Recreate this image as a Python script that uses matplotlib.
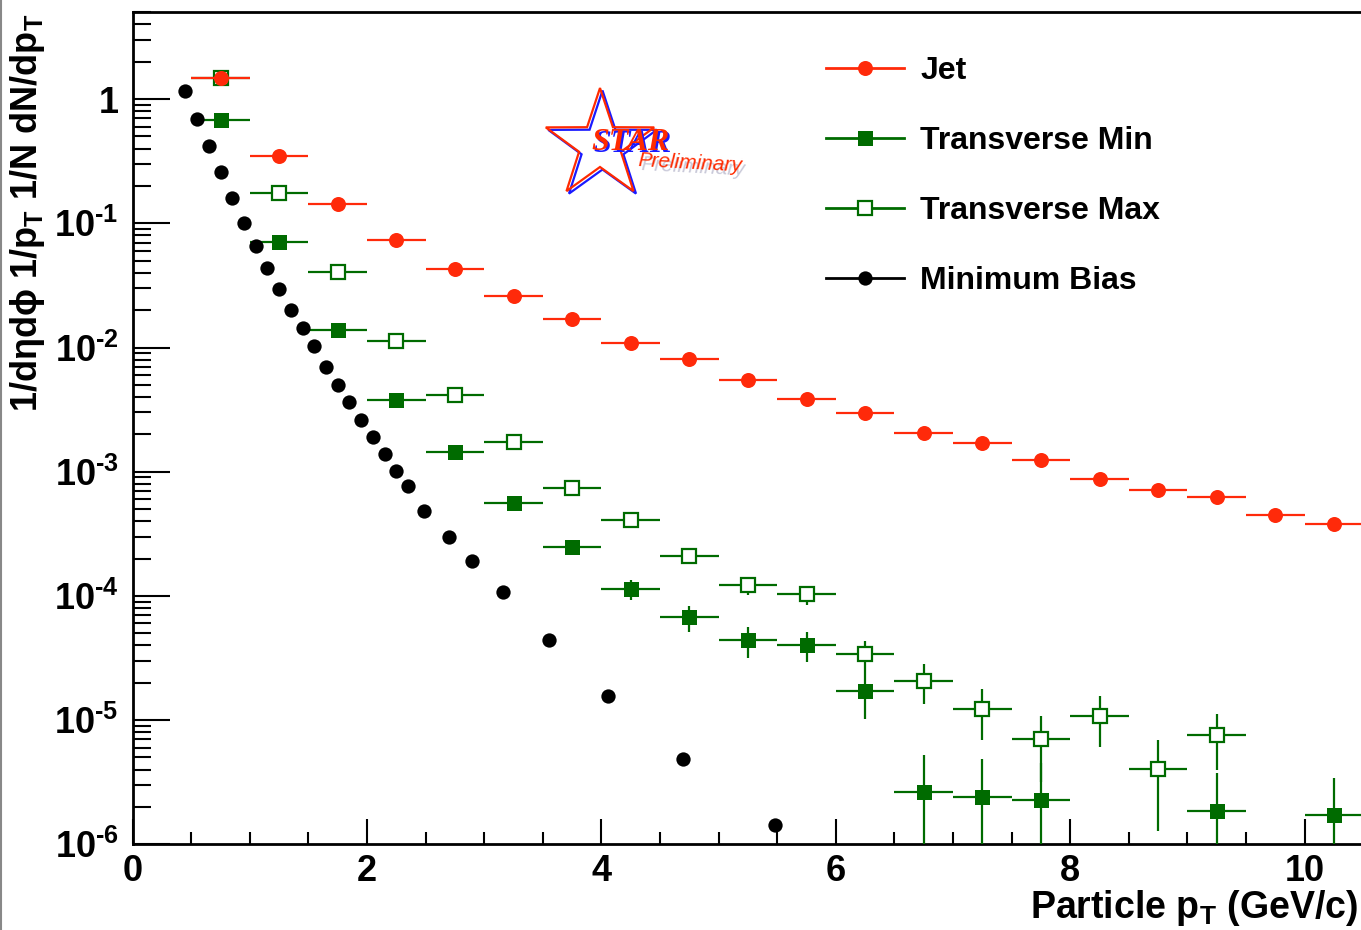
import numpy as np
import matplotlib
matplotlib.use("Agg")
import matplotlib.pyplot as plt
from matplotlib.lines import Line2D
from matplotlib.patches import Polygon
from matplotlib.ticker import FixedLocator, LogLocator, MultipleLocator, FuncFormatter, NullFormatter

plt.rcParams['font.family'] = ['Liberation Sans', 'DejaVu Sans']
plt.rcParams['font.weight'] = 'bold'
plt.rcParams['mathtext.fontset'] = 'custom'
plt.rcParams['mathtext.rm'] = 'Liberation Sans:bold'
plt.rcParams['mathtext.it'] = 'Liberation Sans:bold'
plt.rcParams['mathtext.bf'] = 'Liberation Sans:bold'
plt.rcParams['mathtext.sf'] = 'Liberation Sans:bold'

# ---------------- data ----------------
bin_half_width = 0.25

jet_pt = [0.75, 1.25, 1.75, 2.25, 2.75, 3.25, 3.75, 4.25, 4.75, 5.25,
          5.75, 6.25, 6.75, 7.25, 7.75, 8.25, 8.75, 9.25, 9.75, 10.25]
jet_y = [1.47, 0.346, 0.142, 0.0730, 0.0427, 0.0259, 0.0169, 0.0108, 0.00805, 0.00546,
         0.00384, 0.00296, 0.00204, 0.00170, 0.00124, 0.000871, 0.000711, 0.000624, 0.000447, 0.000378]
jet_err = [0.01, 0.003, 0.0015, 0.0009, 0.0006, 0.0004, 0.0003, 0.0002, 0.00017, 0.00012,
           9e-5, 7.5e-5, 5.5e-5, 5e-5, 4e-5, 3e-5, 2.6e-5, 2.4e-5, 2e-5, 1.8e-5]

tmax_pt = [0.75, 1.25, 1.75, 2.25, 2.75, 3.25, 3.75, 4.25, 4.75, 5.25,
           5.75, 6.25, 6.75, 7.25, 7.75, 8.25, 8.75, 9.25]
tmax_y = [1.47, 0.177, 0.0403, 0.0112, 0.00413, 0.00173, 0.000738, 0.000408, 0.000209, 0.000122,
          0.000103, 3.40e-5, 2.08e-5, 1.23e-5, 7.02e-6, 1.08e-5, 4.07e-6, 7.60e-6]
tmax_err = [0.006, 0.0016, 0.00064, 0.0003, 0.00016, 9.7e-5, 5.9e-5, 4.1e-5, 2.8e-5, 2.0e-5,
            1.8e-5, 0.95e-5, 0.74e-5, 0.54e-5, 0.385e-5, 0.47e-5, 0.28e-5, 0.367e-5]

tmin_pt = [0.75, 1.25, 1.75, 2.25, 2.75, 3.25, 3.75, 4.25, 4.75, 5.25,
           5.75, 6.25, 6.75, 7.25, 7.75, 9.25, 10.25]
tmin_y = [0.674, 0.0703, 0.0138, 0.00377, 0.00144, 0.000558, 0.000247, 0.000114, 6.76e-5, 4.40e-5,
          4.01e-5, 1.73e-5, 2.63e-6, 2.42e-6, 2.27e-6, 1.87e-6, 1.72e-6]
tmin_err = [0.004, 0.001, 0.00037, 0.00017, 9.6e-5, 5.5e-5, 3.4e-5, 2.1e-5, 1.6e-5, 1.23e-5,
            1.1e-5, 0.70e-5, 2.63e-6, 2.42e-6, 2.27e-6, 1.87e-6, 1.72e-6]

mb_pt = [0.45, 0.55, 0.65, 0.75, 0.85, 0.95, 1.05, 1.15, 1.25, 1.35,
         1.45, 1.55, 1.65, 1.75, 1.85, 1.95, 2.05, 2.15, 2.25, 2.35,
         2.49, 2.70, 2.90, 3.16, 3.55, 4.06, 4.70, 5.48]
mb_y = [1.153, 0.695, 0.417, 0.259, 0.159, 0.1013, 0.0662, 0.0437, 0.0298, 0.0200,
        0.0143, 0.0102, 0.00698, 0.00500, 0.00361, 0.00260, 0.00189, 0.00140, 0.00102, 0.000762,
        0.000482, 0.000299, 0.000192, 0.000108, 4.42e-5, 1.57e-5, 4.85e-6, 1.44e-6]

series_labels = ["Jet", "Transverse Min", "Transverse Max", "Minimum Bias"]

RED = '#ff2a0a'
GREEN = '#006b00'
BLACK = '#000000'

W, H = 1361, 930
fig = plt.figure(figsize=(W / 100, H / 100), dpi=100)

x0, x1 = 132.6, 132.6 + 10.5 * 117.2
y_top, y_bot = 12.3, 844.3
ax = fig.add_axes([x0 / W, 1 - y_bot / H, (x1 - x0) / W, (y_bot - y_top) / H])
ax.set_yscale('log', nonpositive='clip')
ax.set_xlim(0, 10.5)
ax.set_ylim(1e-6, 5)


def asym(y, e):
    y = np.asarray(y, float)
    e = np.asarray(e, float)
    lo = np.minimum(e, y * 0.9999)
    return [lo, e]


eb_kw = dict(capsize=0, elinewidth=1.6, linestyle='none')

ax.errorbar(tmax_pt, tmax_y, xerr=bin_half_width, yerr=asym(tmax_y, tmax_err),
            marker='s', ms=10.6, mfc='white', mec=GREEN, mew=1.6, color=GREEN,
            zorder=2, **eb_kw)
ax.errorbar(tmin_pt, tmin_y, xerr=bin_half_width, yerr=asym(tmin_y, tmin_err),
            marker='s', ms=10.8, mfc=GREEN, mec=GREEN, mew=0, color=GREEN,
            zorder=3, **eb_kw)
ax.errorbar(jet_pt, jet_y, xerr=bin_half_width, yerr=asym(jet_y, jet_err),
            marker='o', ms=10.8, mfc=RED, mec=RED, mew=0, color=RED,
            zorder=4, **eb_kw)
ax.plot(mb_pt, mb_y, linestyle='none', marker='o', ms=10.3, mfc=BLACK, mec=BLACK,
        mew=0, zorder=5)

# axes styling
for side in ['left', 'bottom', 'top']:
    ax.spines[side].set_linewidth(2.0)
ax.spines['right'].set_visible(False)

ax.yaxis.set_major_locator(FixedLocator([10.0 ** k for k in range(-6, 1)]))
ax.yaxis.set_minor_locator(LogLocator(base=10, subs=np.arange(2, 10), numticks=20))
ax.yaxis.set_minor_formatter(NullFormatter())


def ylab(v, pos):
    k = int(round(np.log10(v)))
    if k == 0:
        return '1'
    return '$10^{\u2010%d}$' % abs(k)


ax.yaxis.set_major_formatter(FuncFormatter(ylab))
ax.xaxis.set_major_locator(MultipleLocator(2))
ax.xaxis.set_minor_locator(MultipleLocator(0.5))
ax.xaxis.set_major_formatter(FuncFormatter(lambda v, p: '%d' % v))

ax.tick_params(axis='y', which='major', direction='in', length=26.5, width=1.5,
               labelsize=26, pad=10, left=True, right=False)
ax.tick_params(axis='y', which='minor', direction='in', length=13, width=1.5,
               left=True, right=False)
ax.tick_params(axis='x', which='major', direction='in', length=18, width=1.5,
               labelsize=26, pad=7, bottom=True, top=False)
ax.tick_params(axis='x', which='minor', direction='in', length=9, width=1.5,
               bottom=True, top=False)
for lab in ax.get_xticklabels() + ax.get_yticklabels():
    lab.set_fontweight('bold')

# axis titles
fig.text(1358 / W, 1 - 917.5 / H, r'Particle p$_{\mathrm{T}}$ (GeV/c)', ha='right',
         va='baseline', fontsize=27, fontweight='bold')
fig.text(28 / W, 1 - 13 / H,
         '1/d\u03b7d\u03d5 1/p$_{\\mathrm{T}}$ 1/N dN/dp$_{\\mathrm{T}}$',
         rotation=90, ha='center', va='top', fontsize=26, fontweight='bold')

# legend
handles = [
    Line2D([], [], color=RED, lw=2, marker='o', ms=10.8, mfc=RED, mec=RED, mew=0),
    Line2D([], [], color=GREEN, lw=2, marker='s', ms=10.8, mfc=GREEN, mec=GREEN, mew=0),
    Line2D([], [], color=GREEN, lw=2, marker='s', ms=10.6, mfc='white', mec=GREEN, mew=1.6),
    Line2D([], [], color=BLACK, lw=2, marker='o', ms=10.3, mfc=BLACK, mec=BLACK, mew=0),
]
leg = ax.legend(handles, series_labels, loc='upper left',
                bbox_to_anchor=(826 / W, 1 - 56 / H), bbox_transform=fig.transFigure,
                frameon=False, fontsize=23, handlelength=2.45, handletextpad=0.5,
                labelspacing=1.25, borderpad=0, borderaxespad=0, numpoints=1)
for t in leg.get_texts():
    t.set_fontweight('bold')


# STAR Preliminary logo
def fp(px, py):
    return (px / W, 1 - py / H)


cx, cy, R, r = 600.0, 145.0, 57.0, 22.0
ang = np.deg2rad(90 + 36 * np.arange(10))
rad = np.where(np.arange(10) % 2 == 0, R, r)
star_px = np.c_[cx + rad * np.cos(ang), cy - rad * np.sin(ang)]
for dx, dy, col in [(2.5, 2.5, '#1a1aff'), (0, 0, '#ff2a00')]:
    pts = [fp(x + dx, y + dy) for x, y in star_px]
    fig.add_artist(Polygon(pts, closed=True, fill=False, edgecolor=col, lw=1.6,
                           transform=fig.transFigure, zorder=10))
for dx, dy, col in [(2, 2, '#1a1aff'), (0, 0, '#ff2a00')]:
    fig.text(*fp(631 + dx, 150 + dy), 'STAR', family='Liberation Serif', style='italic',
             fontweight='bold', fontsize=23, color=col, ha='center', va='baseline', zorder=11)
for dx, dy, col, al in [(3, 4, '#8888aa', 0.45), (0, 0, '#ff2a00', 1.0)]:
    fig.text(*fp(638 + dx, 166 + dy), 'Preliminary', style='italic', fontweight='normal',
             fontsize=15, color=col, alpha=al, ha='left', va='baseline', rotation=-3,
             rotation_mode='anchor', zorder=11)

# outer canvas edge
fig.add_artist(Line2D([1 / W, 1 / W], [0, 1], color='#888888', lw=1.5,
                      transform=fig.transFigure))

fig.savefig('out.png', dpi=100)
